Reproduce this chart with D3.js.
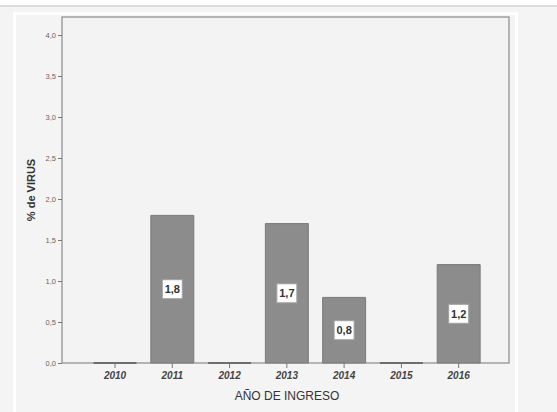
<!DOCTYPE html>
<html>
<head>
<meta charset="utf-8">
<script src="https://cdn.jsdelivr.net/npm/d3@7"></script>
<style>
  body { margin: 0; background: #f4f4f4; }
  svg { display: block; }
</style>
</head>
<body>
<svg id="chart"></svg>
<script>
//Chart Data
const years = ["2010", "2011", "2012", "2013", "2014", "2015", "2016"];
const virusPct = [0, 1.8, 0, 1.7, 0.8, 0, 1.2];
const yTicks = [0, 0.5, 1, 1.5, 2, 2.5, 3, 3.5, 4];

const w = 557;
const h = 412;
const plotLeft = 62;
const plotRight = 509;
const plotTop = 17;
const plotBottom = 363;

const fmt = (v) => d3.format(".1f")(v).replace(".", ",");

const chart = d3.select("#chart")
                .attr("width", w)
                .attr("height", h);

//Page Frame
chart.append("rect")
     .attr("x", 0).attr("y", 0).attr("width", w).attr("height", h)
     .attr("fill", "#f4f4f4");
chart.append("rect")
     .attr("x", 0).attr("y", 0).attr("width", w).attr("height", 5)
     .attr("fill", "#ffffff");
chart.append("rect")
     .attr("x", 0).attr("y", 5).attr("width", w).attr("height", 2)
     .attr("fill", "#dcdcdc");
chart.append("rect")
     .attr("x", 14.5).attr("y", 13.5).attr("width", 502).attr("height", 410)
     .attr("fill", "#f4f4f4")
     .attr("stroke", "#ffffff")
     .attr("stroke-width", 3);

//Scale Setup
const xScale = d3.scaleBand()
                 .domain(years)
                 .range([86.4, 487.3])
                 .paddingInner(0.25)
                 .paddingOuter(0.125);

const yScale = d3.scaleLinear()
                 .domain([0, 4])
                 .range([plotBottom, 35]);

//Plot Frame
chart.append("rect")
     .attr("x", plotLeft).attr("y", plotTop)
     .attr("width", plotRight - plotLeft).attr("height", plotBottom - plotTop)
     .attr("fill", "#f3f3f3")
     .attr("stroke", "#8a8a8a")
     .attr("stroke-width", 1.2);

//Bars (path so zero values still show as a line)
chart.selectAll(".bar")
     .data(years.map((y, i) => ({ year: y, value: virusPct[i] })))
     .enter()
     .append("path")
     .classed("bar", true)
     .attr("d", (d) => {
        const x = xScale(d.year);
        const y0 = yScale(0);
        const y1 = yScale(d.value);
        return `M${x},${y0}V${y1}H${x + xScale.bandwidth()}V${y0}Z`;
     })
     .attr("fill", "#8c8c8c")
     .attr("stroke", (d) => d.value === 0 ? "#555" : "#7a7a7a")
     .attr("stroke-width", (d) => d.value === 0 ? 1.5 : 1);

//Value Labels
const labels = chart.selectAll(".lbl")
     .data(years.map((y, i) => ({ year: y, value: virusPct[i] })).filter((d) => d.value > 0))
     .enter()
     .append("g")
     .classed("lbl", true)
     .attr("transform", (d) => `translate(${xScale(d.year) + xScale.bandwidth() / 2}, ${(yScale(0) + yScale(d.value)) / 2})`);

labels.append("rect")
      .attr("x", -10).attr("y", -9.5)
      .attr("width", 20).attr("height", 19)
      .attr("fill", "#ffffff")
      .attr("stroke", "#a0a0a0")
      .attr("stroke-width", 1);

labels.append("text")
      .attr("text-anchor", "middle")
      .attr("dy", "0.36em")
      .attr("font-family", "Liberation Sans, Arial, sans-serif")
      .attr("font-size", 11)
      .attr("font-weight", "bold")
      .attr("fill", "#333")
      .text((d) => fmt(d.value));

//Axis Setup
const yAxis = d3.axisLeft(yScale)
                .tickValues(yTicks)
                .tickFormat(fmt)
                .tickSize(4)
                .tickPadding(2);
const gy = chart.append("g")
     .attr("transform", "translate(" + plotLeft + ", 0)")
     .call(yAxis);
gy.select(".domain").remove();
gy.selectAll("line").attr("stroke", "#777");
gy.selectAll("text")
  .attr("font-family", "Liberation Sans, Arial, sans-serif")
  .attr("font-size", 7.5)
  .attr("fill", "#666");

const xAxis = d3.axisBottom(xScale)
                .tickSize(5)
                .tickPadding(4);
const gx = chart.append("g")
     .attr("transform", "translate(0, " + plotBottom + ")")
     .call(xAxis);
gx.select(".domain").remove();
gx.selectAll("line").attr("stroke", "#777");
gx.selectAll("text")
  .attr("font-family", "Liberation Sans, Arial, sans-serif")
  .attr("font-size", 10)
  .attr("font-style", "italic")
  .attr("font-weight", "bold")
  .attr("fill", "#444");

//Labels Setup
chart.append("text")
     .attr("x", 287)
     .attr("y", 400)
     .attr("text-anchor", "middle")
     .attr("font-family", "Liberation Sans, Arial, sans-serif")
     .attr("font-size", 12)
     .attr("fill", "#333")
     .text("AÑO DE INGRESO");

chart.append("text")
     .attr("transform", "translate(35, " + ((plotTop + plotBottom) / 2) + ") rotate(-90)")
     .attr("text-anchor", "middle")
     .attr("font-family", "Liberation Sans, Arial, sans-serif")
     .attr("font-size", 11)
     .attr("font-weight", "bold")
     .attr("fill", "#333")
     .text("% de VIRUS");
</script>
</body>
</html>
